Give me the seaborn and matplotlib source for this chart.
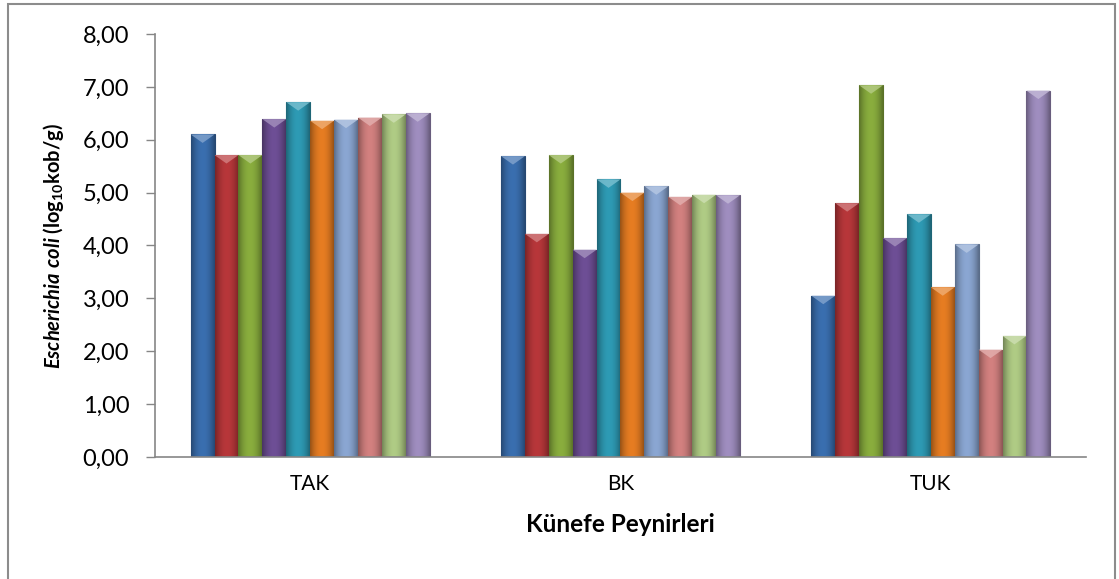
import numpy as np
import pandas as pd
import matplotlib
matplotlib.use("Agg")
import matplotlib.pyplot as plt
import seaborn as sns
from matplotlib.colors import to_rgb
from matplotlib.patches import Polygon, Rectangle
from matplotlib.ticker import FuncFormatter


# Chart data
CATEGORIES = ["TAK", "BK", "TUK"]
SAMPLES = ["1", "2", "3", "4", "5", "6", "7", "8", "9", "10"]

TAK_VALUES = [6.10, 5.71, 5.71, 6.39, 6.71, 6.36, 6.38, 6.42, 6.48, 6.50]
BK_VALUES = [5.69, 4.22, 5.71, 3.92, 5.25, 5.00, 5.12, 4.92, 4.96, 4.95]
TUK_VALUES = [3.05, 4.80, 7.03, 4.14, 4.59, 3.21, 4.02, 2.03, 2.29, 6.93]

BAR_COLORS = ["#3A6FB0", "#B8373A", "#8AAE3E", "#6E4F96", "#2E9BB5",
              "#E77D22", "#8BA7D3", "#D38180", "#B0CC85", "#A08EC0"]

Y_LABEL = r"$\it{Escherichia\ coli}$ (log$_{10}$kob/g)"
X_LABEL = "Künefe Peynirleri"


# Build long-form table for seaborn
def build_dataframe():
    rows = []
    for category, values in zip(CATEGORIES, [TAK_VALUES, BK_VALUES, TUK_VALUES]):
        for sample, value in zip(SAMPLES, values):
            rows.append({"Kategori": category, "Numune": sample, "Deger": value})
    return pd.DataFrame(rows)


def shade(color, factor):
    r, g, b = to_rgb(color)
    if factor < 1:
        return (r * factor, g * factor, b * factor)
    return tuple(c + (1 - c) * (factor - 1) for c in (r, g, b))


# Give each bar an Excel-like bevel: horizontal gradient + light top triangle
def add_bevel(ax):
    gradient = np.linspace(-1, 1, 64)
    profile = 1 - 0.35 * np.abs(gradient) ** 2
    for patch in ax.patches:
        if patch.get_height() <= 0:
            continue
        x, y = patch.get_x(), patch.get_y()
        w, h = patch.get_width(), patch.get_height()
        base = np.array(patch.get_facecolor()[:3])
        img = (profile[:, None] * base[None, :])[None, :, :]
        im = ax.imshow(img, extent=[x, x + w, y, y + h], aspect="auto",
                       origin="lower", zorder=patch.get_zorder() + 0.1,
                       interpolation="bicubic")
        im.set_clip_path(patch)
        tip = Polygon([[x, y + h], [x + w, y + h], [x + w / 2, y + h - 0.16]],
                      closed=True, facecolor=shade(base, 1.35), edgecolor="none",
                      alpha=0.85, zorder=patch.get_zorder() + 0.2)
        ax.add_patch(tip)
        patch.set_edgecolor(shade(base, 0.65))
        patch.set_linewidth(0.8)


def main():
    df = build_dataframe()

    sns.set_theme(style="white")
    plt.rcParams["font.family"] = ["Lato", "DejaVu Sans"]
    plt.rcParams["mathtext.fontset"] = "custom"
    plt.rcParams["mathtext.rm"] = "Lato:bold"
    plt.rcParams["mathtext.it"] = "Lato:bold:italic"
    plt.rcParams["mathtext.bf"] = "Lato:bold"

    fig = plt.figure(figsize=(11.19, 5.79), dpi=100)
    ax = fig.add_axes([0.1385, 0.2107, 0.832, 0.7306])

    sns.barplot(data=df, x="Kategori", y="Deger", hue="Numune",
                palette=BAR_COLORS, width=0.77, gap=0, saturation=1,
                legend=False, ax=ax, zorder=2)

    ax.set_xlim(-0.5, 2.5)
    ax.set_ylim(0, 8)
    add_bevel(ax)
    ax.set_xlim(-0.5, 2.5)
    ax.set_ylim(0, 8)

    ax.set_yticks(np.arange(0, 9, 1))
    ax.yaxis.set_major_formatter(FuncFormatter(lambda v, _: f"{v:.2f}".replace(".", ",")))
    ax.tick_params(axis="y", which="major", left=True, length=6.5, width=1,
                   color="#868686", labelsize=17, pad=12, labelcolor="black")
    ax.tick_params(axis="x", bottom=False, labelsize=15, pad=6, labelcolor="black")

    for side in ["top", "right"]:
        ax.spines[side].set_visible(False)
    for side in ["left", "bottom"]:
        ax.spines[side].set_color("#868686")
        ax.spines[side].set_linewidth(1.2)

    ax.set_xlabel(X_LABEL, fontsize=17.5, fontweight="bold", labelpad=14, color="black")
    ax.set_ylabel(Y_LABEL, fontsize=14.5, fontweight="bold", labelpad=12, color="black")

    # Outer chart frame
    frame = Rectangle((8 / 1119, -0.05), (1115 - 8) / 1119, 1 - 4 / 579 + 0.05,
                      transform=fig.transFigure, fill=False,
                      edgecolor="#8C8C8C", linewidth=1.5)
    fig.add_artist(frame)

    fig.savefig("out.png", dpi=100, facecolor="white")


if __name__ == "__main__":
    main()
